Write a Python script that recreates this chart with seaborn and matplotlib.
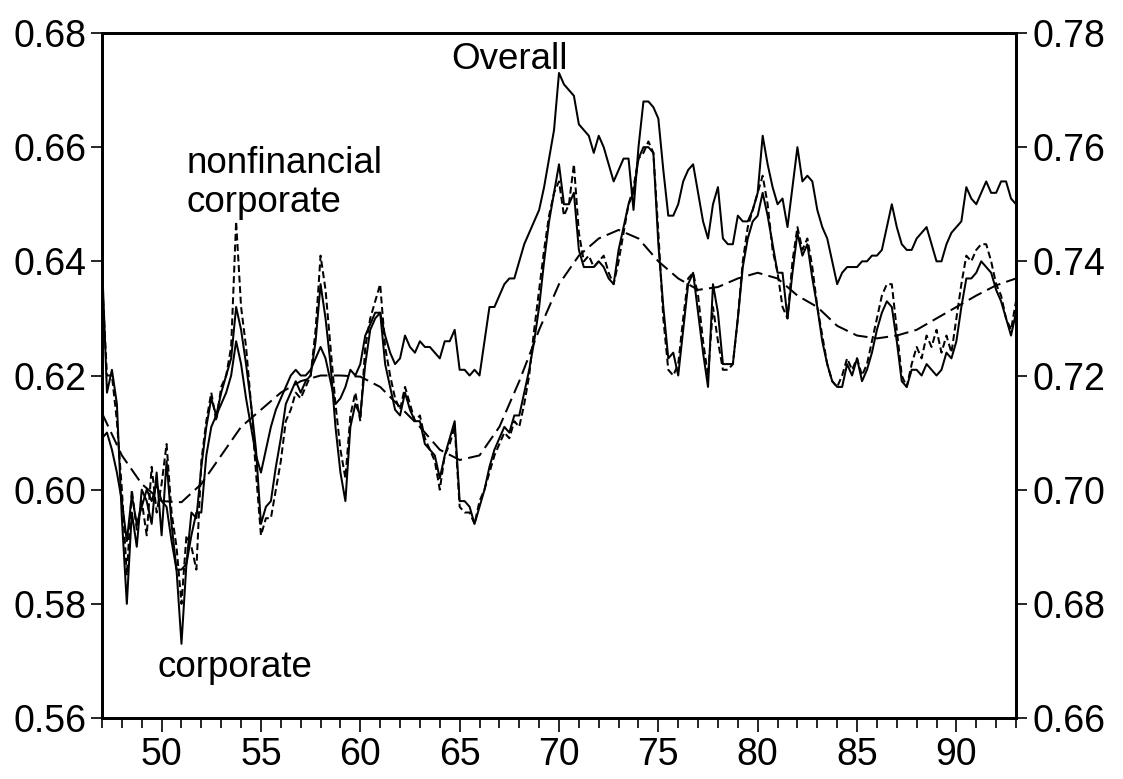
import numpy as np
import pandas as pd
import matplotlib
matplotlib.use("Agg")
import matplotlib.pyplot as plt
import seaborn as sns

# Quarterly labor-share series, 1947Q1 .. 1993Q1 (one row per year)
corporate = [
    0.640, 0.617, 0.621, 0.615,
    0.595, 0.580, 0.596, 0.590,
    0.600, 0.598, 0.594, 0.603,
    0.592, 0.605, 0.594, 0.586,
    0.573, 0.587, 0.596, 0.595,
    0.604, 0.611, 0.616, 0.613,
    0.617, 0.620, 0.623, 0.632,
    0.628, 0.622, 0.615, 0.607,
    0.594, 0.597, 0.598, 0.604,
    0.609, 0.615, 0.617, 0.619,
    0.617, 0.619, 0.620, 0.626,
    0.636, 0.630, 0.622, 0.611,
    0.603, 0.598, 0.611, 0.615,
    0.613, 0.622, 0.628, 0.630,
    0.631, 0.622, 0.618, 0.614,
    0.613, 0.617, 0.614, 0.612,
    0.612, 0.608, 0.607, 0.606,
    0.602, 0.606, 0.609, 0.612,
    0.598, 0.598, 0.597, 0.594,
    0.597, 0.600, 0.604, 0.607,
    0.609, 0.611, 0.610, 0.613,
    0.613, 0.617, 0.621, 0.626,
    0.632, 0.640, 0.647, 0.652,
    0.657, 0.650, 0.650, 0.652,
    0.642, 0.639, 0.639, 0.639,
    0.640, 0.639, 0.637, 0.636,
    0.642, 0.646, 0.650, 0.652,
    0.658, 0.660, 0.660, 0.659,
    0.643, 0.632, 0.623, 0.624,
    0.620, 0.628, 0.636, 0.638,
    0.631, 0.624, 0.618, 0.636,
    0.631, 0.622, 0.622, 0.622,
    0.630, 0.639, 0.644, 0.647,
    0.648, 0.652, 0.648, 0.643,
    0.638, 0.638, 0.630, 0.638,
    0.645, 0.641, 0.643, 0.637,
    0.632, 0.626, 0.622, 0.619,
    0.618, 0.618, 0.622, 0.620,
    0.623, 0.619, 0.621, 0.624,
    0.628, 0.631, 0.633, 0.632,
    0.626, 0.619, 0.618, 0.621,
    0.621, 0.620, 0.622, 0.621,
    0.620, 0.621, 0.624, 0.623,
    0.626, 0.632, 0.637, 0.637,
    0.638, 0.640, 0.639, 0.638,
    0.635, 0.633, 0.630, 0.627,
    0.631,
]

nonfinancial = [
    0.637, 0.620, 0.620, 0.612,
    0.600, 0.585, 0.600, 0.593,
    0.598, 0.592, 0.604, 0.596,
    0.601, 0.608, 0.596, 0.590,
    0.580, 0.592, 0.590, 0.586,
    0.605, 0.612, 0.617, 0.612,
    0.618, 0.620, 0.625, 0.647,
    0.632, 0.625, 0.615, 0.603,
    0.592, 0.595, 0.595, 0.600,
    0.605, 0.612, 0.614, 0.617,
    0.616, 0.618, 0.620, 0.628,
    0.641, 0.635, 0.625, 0.615,
    0.607, 0.602, 0.613, 0.617,
    0.612, 0.625, 0.630, 0.633,
    0.636, 0.625, 0.620, 0.616,
    0.614, 0.618, 0.615, 0.612,
    0.613, 0.609, 0.607, 0.605,
    0.600, 0.606, 0.608, 0.611,
    0.597, 0.596, 0.596, 0.594,
    0.598, 0.600, 0.603, 0.606,
    0.608, 0.610, 0.609, 0.612,
    0.611, 0.615, 0.620, 0.628,
    0.635, 0.642, 0.648, 0.652,
    0.654, 0.648, 0.650, 0.657,
    0.645, 0.640, 0.641, 0.639,
    0.640, 0.641, 0.638, 0.636,
    0.640, 0.645, 0.650, 0.653,
    0.658, 0.659, 0.661, 0.659,
    0.645, 0.630, 0.621, 0.620,
    0.622, 0.630, 0.637, 0.638,
    0.634, 0.626, 0.620, 0.632,
    0.626, 0.621, 0.621, 0.622,
    0.630, 0.640, 0.646, 0.649,
    0.652, 0.655, 0.650, 0.642,
    0.638, 0.632, 0.630, 0.640,
    0.646, 0.642, 0.644, 0.639,
    0.632, 0.627, 0.622, 0.619,
    0.618, 0.620, 0.623, 0.621,
    0.623, 0.620, 0.622, 0.626,
    0.630, 0.634, 0.636, 0.636,
    0.628, 0.620, 0.618, 0.622,
    0.625, 0.623, 0.627, 0.625,
    0.628, 0.624, 0.627, 0.624,
    0.630, 0.636, 0.641, 0.640,
    0.642, 0.643, 0.643, 0.640,
    0.636, 0.634, 0.630, 0.628,
    0.633,
]

# Overall share, read against the right-hand scale
overall = [
    0.709, 0.710, 0.707, 0.703,
    0.698, 0.691, 0.699, 0.694,
    0.697, 0.700, 0.698, 0.701,
    0.698, 0.697, 0.691, 0.686,
    0.686, 0.687, 0.692, 0.696,
    0.696, 0.706, 0.711, 0.713,
    0.715, 0.717, 0.720, 0.726,
    0.722, 0.716, 0.711, 0.706,
    0.703, 0.707, 0.711, 0.714,
    0.716, 0.718, 0.720, 0.721,
    0.720, 0.720, 0.721, 0.723,
    0.725, 0.723, 0.719, 0.715,
    0.716, 0.718, 0.721, 0.720,
    0.722, 0.727, 0.729, 0.731,
    0.731, 0.727, 0.724, 0.722,
    0.723, 0.727, 0.725, 0.724,
    0.726, 0.725, 0.725, 0.724,
    0.723, 0.726, 0.726, 0.728,
    0.721, 0.721, 0.720, 0.721,
    0.720, 0.726, 0.732, 0.732,
    0.734, 0.736, 0.737, 0.737,
    0.740, 0.743, 0.745, 0.747,
    0.749, 0.753, 0.758, 0.763,
    0.773, 0.771, 0.770, 0.769,
    0.764, 0.763, 0.762, 0.759,
    0.762, 0.760, 0.757, 0.754,
    0.756, 0.758, 0.758, 0.749,
    0.760, 0.768, 0.768, 0.767,
    0.765, 0.756, 0.748, 0.748,
    0.750, 0.754, 0.756, 0.757,
    0.752, 0.747, 0.744, 0.750,
    0.753, 0.744, 0.743, 0.743,
    0.748, 0.747, 0.747, 0.749,
    0.752, 0.762, 0.757, 0.753,
    0.750, 0.751, 0.746, 0.753,
    0.760, 0.754, 0.755, 0.754,
    0.749, 0.746, 0.744, 0.740,
    0.736, 0.738, 0.739, 0.739,
    0.739, 0.740, 0.740, 0.741,
    0.741, 0.742, 0.746, 0.750,
    0.746, 0.743, 0.742, 0.742,
    0.744, 0.745, 0.746, 0.743,
    0.740, 0.740, 0.743, 0.745,
    0.746, 0.747, 0.753, 0.751,
    0.750, 0.752, 0.754, 0.752,
    0.752, 0.754, 0.754, 0.751,
    0.750,
]

# Smooth trend, one value per year 1947 .. 1993
trend_years = list(range(47, 94))
trend = [
    0.6134, 0.606, 0.601, 0.598, 0.5978, 0.601, 0.606, 0.611, 0.614, 0.617,
    0.619, 0.620, 0.620, 0.6198, 0.618, 0.6145, 0.611, 0.607, 0.6052, 0.606,
    0.611, 0.619, 0.628, 0.636, 0.641, 0.644, 0.6455, 0.644, 0.640, 0.637,
    0.635, 0.6355, 0.637, 0.638, 0.637, 0.634, 0.632, 0.6287, 0.627, 0.6265,
    0.627, 0.628, 0.630, 0.632, 0.634, 0.6358, 0.637,
]

x_major = [50, 55, 60, 65, 70, 75, 80, 85, 90]
left_ticks = [0.56, 0.58, 0.60, 0.62, 0.64, 0.66, 0.68]
right_ticks = [0.66, 0.68, 0.70, 0.72, 0.74, 0.76, 0.78]

quarters = 47 + np.arange(len(corporate)) / 4.0
df = pd.DataFrame({
    "year": quarters,
    "corporate": corporate,
    "nonfinancial": nonfinancial,
    "overall": overall,
})
df_trend = pd.DataFrame({"year": trend_years, "trend": trend})

sns.set_style("ticks")
plt.rcParams["font.family"] = ["Liberation Sans", "DejaVu Sans"]
plt.rcParams["lines.scale_dashes"] = False
for key in ("text.color", "axes.labelcolor", "xtick.color", "ytick.color",
            "axes.edgecolor"):
    plt.rcParams[key] = "black"

W, H = 1123, 779
fig = plt.figure(figsize=(W / 100, H / 100), dpi=100)
fig.patch.set_facecolor("white")
ax = fig.add_axes([102 / W, 1 - 718 / H, (1016 - 102) / W, (718 - 33) / H])
ax2 = ax.twinx()

lw = 1.45
sns.lineplot(data=df_trend, x="year", y="trend", ax=ax, color="black",
             lw=lw, legend=False, estimator=None, sort=False,
             linestyle=(0, (10.5, 4.5)))
sns.lineplot(data=df, x="year", y="nonfinancial", ax=ax, color="black",
             lw=lw, legend=False, estimator=None, sort=False,
             linestyle=(0, (5.0, 2.6)))
sns.lineplot(data=df, x="year", y="corporate", ax=ax, color="black",
             lw=lw, legend=False, estimator=None, sort=False)
sns.lineplot(data=df, x="year", y="overall", ax=ax2, color="black",
             lw=lw, legend=False, estimator=None, sort=False)

ax.set_xlim(47, 93)
ax.set_ylim(0.56, 0.68)
ax2.set_ylim(0.66, 0.78)
for a in (ax, ax2):
    a.set_xlabel("")
    a.set_ylabel("")
    for s in a.spines.values():
        s.set_linewidth(2.0)
        s.set_color("black")
        s.set_visible(True)

tick_fs = 27
ax.set_xticks(x_major)
ax.set_xticklabels([str(v) for v in x_major], fontsize=tick_fs)
ax.set_xticks(list(range(47, 94)), minor=True)
ax.set_yticks(left_ticks)
ax.set_yticklabels([f"{v:.2f}" for v in left_ticks], fontsize=tick_fs)
ax2.set_yticks(right_ticks)
ax2.set_yticklabels([f"{v:.2f}" for v in right_ticks], fontsize=tick_fs)

ax.tick_params(axis="x", which="major", direction="out", length=10,
               width=1.2, pad=4, top=False, bottom=True, colors="black")
ax.tick_params(axis="x", which="minor", direction="out", length=7,
               width=1.2, top=False, bottom=True, colors="black")
ax.tick_params(axis="y", which="major", direction="out", length=8,
               width=1.2, pad=3, left=True, right=False, colors="black")
ax.tick_params(axis="y", which="minor", left=False, right=False)
ax2.tick_params(axis="y", which="major", direction="out", length=8,
                width=1.2, pad=4, right=True, left=False, colors="black")
ax2.tick_params(axis="y", which="minor", left=False, right=False)

txt_fs = 26.5
ax.text(64.6, 0.6737, "Overall", fontsize=txt_fs, ha="left", va="baseline",
        color="black")
ax.text(51.26, 0.6555, "nonfinancial", fontsize=txt_fs, ha="left",
        va="baseline", color="black")
ax.text(51.26, 0.6486, "corporate", fontsize=txt_fs, ha="left",
        va="baseline", color="black")
ax.text(49.8, 0.5672, "corporate", fontsize=txt_fs, ha="left",
        va="baseline", color="black")

fig.savefig("out.png", dpi=100, facecolor="white")
